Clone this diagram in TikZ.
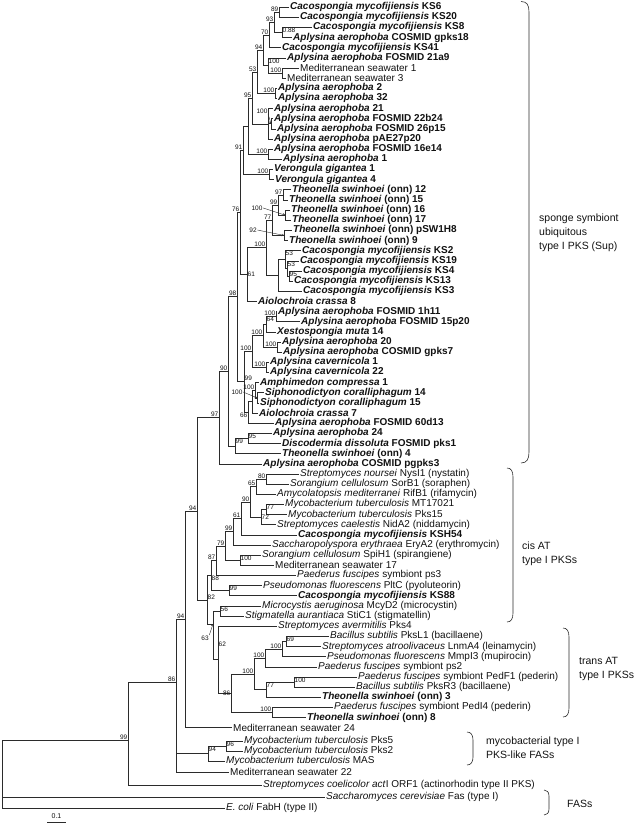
\documentclass[tikz,border=0pt]{standalone}
\usepackage{fontspec}
\setmainfont{Liberation Sans}
\usepackage{tikz}
\usetikzlibrary{arrows.meta}
\definecolor{inkblack}{HTML}{111111}
\definecolor{branchgray}{HTML}{2B2B2B}
\tikzset{
  leaf/.style={anchor=west,inner xsep=1pt,inner ysep=0pt,font=\fontsize{10}{10}\selectfont,text=inkblack},
  branch/.style={draw=branchgray,line width=0.6pt},
  boot/.style={font=\fontsize{6.5}{6.5}\selectfont,inner sep=0.5pt,text=inkblack},
  bootl/.style={boot,anchor=south east},
  bootin/.style={boot,anchor=north west},
  pointer/.style={-{To[length=2.5pt,width=2.5pt]},draw=branchgray,line width=0.4pt},
  clade/.style={draw=branchgray,line width=0.6pt},
  cladetext/.style={anchor=north west,align=left,font=\fontsize{10.5}{14}\selectfont,text=inkblack,inner sep=0pt},
}
\newcommand{\taxb}[2]{\textbf{\textit{#1} #2}}
\newcommand{\taxr}[2]{\textit{#1} #2}

\begin{document}
\begin{tikzpicture}[x=1pt,y=-1pt]
  \useasboundingbox (0,0) rectangle (640,828);
    \node[leaf] (L1) at (289,7.0) {\taxb{Cacospongia mycofijiensis}{KS6}};
    \node[leaf] (L2) at (299,17.2) {\taxb{Cacospongia mycofijiensis}{KS20}};
    \node[leaf] (L3) at (312,27.3) {\taxb{Cacospongia mycofijiensis}{KS8}};
    \node[leaf] (L4) at (292,37.5) {\taxb{Aplysina aerophoba}{COSMID gpks18}};
    \node[leaf] (L5) at (281,47.6) {\taxb{Cacospongia mycofijiensis}{KS41}};
    \node[leaf] (L6) at (286,57.8) {\taxb{Aplysina aerophoba}{FOSMID 21a9}};
    \node[leaf] (L7) at (299,67.9) {Mediterranean seawater 1};
    \node[leaf] (L8) at (286,78.1) {Mediterranean seawater 3};
    \node[leaf] (L9) at (277,88.2) {\taxb{Aplysina aerophoba}{2}};
    \node[leaf] (L10) at (277,98.4) {\taxb{Aplysina aerophoba}{32}};
    \node[leaf] (L11) at (273,108.5) {\taxb{Aplysina aerophoba}{21}};
    \node[leaf] (L12) at (273,118.7) {\taxb{Aplysina aerophoba}{FOSMID 22b24}};
    \node[leaf] (L13) at (276,128.8) {\taxb{Aplysina aerophoba}{FOSMID 26p15}};
    \node[leaf] (L14) at (273,139.0) {\taxb{Aplysina aerophoba}{pAE27p20}};
    \node[leaf] (L15) at (273,149.1) {\taxb{Aplysina aerophoba}{FOSMID 16e14}};
    \node[leaf] (L16) at (282,159.3) {\taxb{Aplysina aerophoba}{1}};
    \node[leaf] (L17) at (273,169.4) {\taxb{Verongula gigantea}{1}};
    \node[leaf] (L18) at (274,179.6) {\taxb{Verongula gigantea}{4}};
    \node[leaf] (L19) at (291,189.7) {\taxb{Theonella swinhoei}{(onn) 12}};
    \node[leaf] (L20) at (288,199.9) {\taxb{Theonella swinhoei}{(onn) 15}};
    \node[leaf] (L21) at (290,210.0) {\taxb{Theonella swinhoei}{(onn) 16}};
    \node[leaf] (L22) at (291,220.2) {\taxb{Theonella swinhoei}{(onn) 17}};
    \node[leaf] (L23) at (292,230.3) {\taxb{Theonella swinhoei}{(onn) pSW1H8}};
    \node[leaf] (L24) at (288,240.5) {\taxb{Theonella swinhoei}{(onn) 9}};
    \node[leaf] (L25) at (301,250.6) {\taxb{Cacospongia mycofijiensis}{KS2}};
    \node[leaf] (L26) at (299,260.8) {\taxb{Cacospongia mycofijiensis}{KS19}};
    \node[leaf] (L27) at (302,270.9) {\taxb{Cacospongia mycofijiensis}{KS4}};
    \node[leaf] (L28) at (293,281.1) {\taxb{Cacospongia mycofijiensis}{KS13}};
    \node[leaf] (L29) at (302,291.2) {\taxb{Cacospongia mycofijiensis}{KS3}};
    \node[leaf] (L30) at (257,301.4) {\taxb{Aiolochroia crassa}{8}};
    \node[leaf] (L31) at (277,311.5) {\taxb{Aplysina aerophoba}{FOSMID 1h11}};
    \node[leaf] (L32) at (300,321.7) {\taxb{Aplysina aerophoba}{FOSMID 15p20}};
    \node[leaf] (L33) at (276,331.8) {\taxb{Xestospongia muta}{14}};
    \node[leaf] (L34) at (281,342.0) {\taxb{Aplysina aerophoba}{20}};
    \node[leaf] (L35) at (282,352.1) {\taxb{Aplysina aerophoba}{COSMID gpks7}};
    \node[leaf] (L36) at (269,362.3) {\taxb{Aplysina cavernicola}{1}};
    \node[leaf] (L37) at (269,372.4) {\taxb{Aplysina cavernicola}{22}};
    \node[leaf] (L38) at (259,382.6) {\taxb{Amphimedon compressa}{1}};
    \node[leaf] (L39) at (264,392.7) {\taxb{Siphonodictyon coralliphagum}{14}};
    \node[leaf] (L40) at (259,402.9) {\taxb{Siphonodictyon coralliphagum}{15}};
    \node[leaf] (L41) at (258,413.0) {\taxb{Aiolochroia crassa}{7}};
    \node[leaf] (L42) at (274,423.2) {\taxb{Aplysina aerophoba}{FOSMID 60d13}};
    \node[leaf] (L43) at (272,433.3) {\taxb{Aplysina aerophoba}{24}};
    \node[leaf] (L44) at (281,443.5) {\taxb{Discodermia dissoluta}{FOSMID pks1}};
    \node[leaf] (L45) at (281,453.6) {\taxb{Theonella swinhoei}{(onn) 4}};
    \node[leaf] (L46) at (262,463.8) {\taxb{Aplysina aerophoba}{COSMID pgpks3}};
    \node[leaf] (L47) at (299,473.9) {\taxr{Streptomyces noursei}{NysI1 (nystatin)}};
    \node[leaf] (L48) at (289,484.1) {\taxr{Sorangium cellulosum}{SorB1 (soraphen)}};
    \node[leaf] (L49) at (276,494.2) {\taxr{Amycolatopsis mediterranei}{RifB1 (rifamycin)}};
    \node[leaf] (L50) at (284,504.4) {\taxr{Mycobacterium tuberculosis}{MT17021}};
    \node[leaf] (L51) at (287,514.5) {\taxr{Mycobacterium tuberculosis}{Pks15}};
    \node[leaf] (L52) at (276,524.7) {\taxr{Streptomyces caelestis}{NidA2 (niddamycin)}};
    \node[leaf] (L53) at (297,534.8) {\taxb{Cacospongia mycofijiensis}{KSH54}};
    \node[leaf] (L54) at (271,545.0) {\taxr{Saccharopolyspora erythraea}{EryA2 (erythromycin)}};
    \node[leaf] (L55) at (261,555.1) {\taxr{Sorangium cellulosum}{SpiH1 (spirangiene)}};
    \node[leaf] (L56) at (274,565.3) {Mediterranean seawater 17};
    \node[leaf] (L57) at (296,575.4) {\taxr{Paederus fuscipes}{symbiont ps3}};
    \node[leaf] (L58) at (262,585.6) {\taxr{Pseudomonas fluorescens}{PltC (pyoluteorin)}};
    \node[leaf] (L59) at (297,595.7) {\taxb{Cacospongia mycofijiensis}{KS88}};
    \node[leaf] (L60) at (261,605.9) {\taxr{Microcystis aeruginosa}{McyD2 (microcystin)}};
    \node[leaf] (L61) at (244,616.0) {\taxr{Stigmatella aurantiaca}{StiC1 (stigmatellin)}};
    \node[leaf] (L62) at (277,626.2) {\taxr{Streptomyces avermitilis}{Pks4}};
    \node[leaf] (L63) at (329,636.3) {\taxr{Bacillus subtilis}{PksL1 (bacillaene)}};
    \node[leaf] (L64) at (321,646.5) {\taxr{Streptomyces atroolivaceus}{LnmA4 (leinamycin)}};
    \node[leaf] (L65) at (326,656.6) {\taxr{Pseudomonas fluorescens}{MmpI3 (mupirocin)}};
    \node[leaf] (L66) at (317,666.8) {\taxr{Paederus fuscipes}{symbiont ps2}};
    \node[leaf] (L67) at (357,676.9) {\taxr{Paederus fuscipes}{symbiont PedF1 (pederin)}};
    \node[leaf] (L68) at (355,687.1) {\taxr{Bacillus subtilis}{PksR3 (bacillaene)}};
    \node[leaf] (L69) at (321,697.2) {\taxb{Theonella swinhoei}{(onn) 3}};
    \node[leaf] (L70) at (333,707.4) {\taxr{Paederus fuscipes}{symbiont PedI4 (pederin)}};
    \node[leaf] (L71) at (306,717.5) {\taxb{Theonella swinhoei}{(onn) 8}};
    \node[leaf] (L72) at (232,727.7) {Mediterranean seawater 24};
    \node[leaf] (L73) at (243,741) {\taxr{Mycobacterium tuberculosis}{Pks5}};
    \node[leaf] (L74) at (243,751) {\taxr{Mycobacterium tuberculosis}{Pks2}};
    \node[leaf] (L75) at (225,761) {\taxr{Mycobacterium tuberculosis}{MAS}};
    \node[leaf] (L76) at (229,772) {Mediterranean seawater 22};
    \node[leaf] (L77) at (262,785) {\textit{Streptomyces coelicolor act}I ORF1 (actinorhodin type II PKS)};
    \node[leaf] (L78) at (325,797) {\taxr{Saccharomyces cerevisiae}{Fas (type I)}};
    \node[leaf] (L79) at (225,808) {\taxr{E. coli}{FabH (type II)}};
    \coordinate (root) at (2,774); \coordinate (n99) at (128,740); \coordinate (n86) at (176,682);
    \coordinate (m94) at (208,753.5); \coordinate (m96) at (226,746);
    \coordinate (u94) at (185,619.6); \coordinate (u94b) at (197,511);
    \coordinate (s97) at (219,417); \coordinate (s90) at (228,371); \coordinate (s98) at (237,296);
    \coordinate (d99) at (235,446); \coordinate (d95) at (248,438.4);
    \coordinate (a76) at (240,212); \coordinate (a91) at (243,150); \coordinate (a91b) at (248,126);
    \coordinate (a95) at (252,98); \coordinate (a53) at (257,72); \coordinate (a94) at (263,50);
    \coordinate (a70) at (269,35); \coordinate (a93) at (274,22); \coordinate (a89) at (279,12.1);
    \coordinate (a088) at (282,32.4); \coordinate (a100f) at (268,65); \coordinate (a100m) at (282,73);
    \coordinate (a100c) at (275,93.3); \coordinate (a21) at (268,124); \coordinate (a22) at (271,123.7);
    \coordinate (a100d) at (268,154.2); \coordinate (a100e) at (269,174.5);
    \coordinate (a61) at (247,274); \coordinate (t100b) at (266,247.5); \coordinate (t77) at (272,220);
    \coordinate (t99) at (278,205); \coordinate (t97) at (283,194.8); \coordinate (t100) at (285,215.1);
    \coordinate (t92) at (284,235.4); \coordinate (c0) at (278,275); \coordinate (c53a) at (285,259);
    \coordinate (c53b) at (287,268); \coordinate (c95) at (289,276);
    \coordinate (b99) at (244,381); \coordinate (b100j) at (252,351); \coordinate (b100h) at (263,335.5);
    \coordinate (b64) at (266,324.2); \coordinate (b100f) at (276,316.6); \coordinate (b100g) at (277,347);
    \coordinate (b100i) at (266,367.3); \coordinate (b66) at (248,412); \coordinate (bamph) at (252,401);
    \coordinate (b100k) at (255,390); \coordinate (b100l) at (257,397.8);
    \coordinate (e82) at (207,600); \coordinate (e88) at (211,575.6); \coordinate (e87) at (216,560.7);
    \coordinate (e79) at (225,546); \coordinate (e99) at (233,531.7); \coordinate (e61) at (241,518.4);
    \coordinate (e90) at (250,502); \coordinate (e65) at (256,486.6); \coordinate (e80) at (266,479);
    \coordinate (e72) at (261,517); \coordinate (e77) at (266,509.4); \coordinate (e100) at (240,560.2);
    \coordinate (e99p) at (229,590.6);
    \coordinate (g63) at (213,624); \coordinate (f56) at (220,611); \coordinate (g62) at (218,659.6);
    \coordinate (g86) at (231,693); \coordinate (g100d) at (254,674); \coordinate (g100b) at (265,658);
    \coordinate (g100a) at (282,649); \coordinate (g69) at (286,641.4); \coordinate (g77) at (266,689.6);
    \coordinate (g100c) at (294,682); \coordinate (g100e) at (272,712.4);
    \draw[branch] (root) |- (n99); \draw[branch] (root) |- (L78.west); \draw[branch] (root) |- (L79.west);
    \draw[branch] (n99) |- (n86); \draw[branch] (n99) |- (L77.west);
    \draw[branch] (n86) |- (u94); \draw[branch] (n86) |- (m94); \draw[branch] (n86) |- (L76.west);
    \draw[branch] (m94) |- (m96); \draw[branch] (m94) |- (L75.west);
    \draw[branch] (m96) |- (L73.west); \draw[branch] (m96) |- (L74.west);
    \draw[branch] (u94) |- (u94b); \draw[branch] (u94) |- (L72.west);
    \draw[branch] (u94b) |- (s97); \draw[branch] (u94b) |- (e82);
    \draw[branch] (s97) |- (s90); \draw[branch] (s97) |- (L46.west);
    \draw[branch] (s90) |- (s98); \draw[branch] (s90) |- (d99);
    \draw[branch] (d99) |- (d95); \draw[branch] (d99) |- (L45.west);
    \draw[branch] (d95) |- (L43.west); \draw[branch] (d95) |- (L44.west);
    \draw[branch] (s98) |- (a76); \draw[branch] (s98) |- (b99);
    \draw[branch] (a76) |- (a91); \draw[branch] (a76) |- (a61);
    \draw[branch] (a91) |- (a91b); \draw[branch] (a91) |- (a100e);
    \draw[branch] (a91b) |- (a95); \draw[branch] (a91b) |- (a100d);
    \draw[branch] (a95) |- (a53); \draw[branch] (a95) |- (a21);
    \draw[branch] (a53) |- (a94); \draw[branch] (a53) |- (a100c);
    \draw[branch] (a94) |- (a70); \draw[branch] (a94) |- (a100f);
    \draw[branch] (a70) |- (a93); \draw[branch] (a70) |- (L5.west);
    \draw[branch] (a93) |- (a89); \draw[branch] (a93) |- (a088);
    \draw[branch] (a89) |- (L1.west); \draw[branch] (a89) |- (L2.west);
    \draw[branch] (a088) |- (L3.west); \draw[branch] (a088) |- (L4.west);
    \draw[branch] (a100f) |- (L6.west); \draw[branch] (a100f) |- (a100m);
    \draw[branch] (a100m) |- (L7.west); \draw[branch] (a100m) |- (L8.west);
    \draw[branch] (a100c) |- (L9.west); \draw[branch] (a100c) |- (L10.west);
    \draw[branch] (a21) |- (L11.west); \draw[branch] (a21) |- (a22); \draw[branch] (a21) |- (L14.west);
    \draw[branch] (a22) |- (L12.west); \draw[branch] (a22) |- (L13.west);
    \draw[branch] (a100d) |- (L15.west); \draw[branch] (a100d) |- (L16.west);
    \draw[branch] (a100e) |- (L17.west); \draw[branch] (a100e) |- (L18.west);
    \draw[branch] (a61) |- (t100b); \draw[branch] (a61) |- (L30.west);
    \draw[branch] (t100b) |- (t77); \draw[branch] (t100b) |- (c0);
    \draw[branch] (t77) |- (t99); \draw[branch] (t77) |- (t92);
    \draw[branch] (t99) |- (t97); \draw[branch] (t99) |- (t100);
    \draw[branch] (t97) |- (L19.west); \draw[branch] (t97) |- (L20.west);
    \draw[branch] (t100) |- (L21.west); \draw[branch] (t100) |- (L22.west);
    \draw[branch] (t92) |- (L23.west); \draw[branch] (t92) |- (L24.west);
    \draw[branch] (c0) |- (c53a); \draw[branch] (c0) |- (L29.west);
    \draw[branch] (c53a) |- (L25.west); \draw[branch] (c53a) |- (c53b);
    \draw[branch] (c53b) |- (L26.west); \draw[branch] (c53b) |- (c95);
    \draw[branch] (c95) |- (L27.west); \draw[branch] (c95) |- (L28.west);
    \draw[branch] (b99) |- (b100j); \draw[branch] (b99) |- (b66);
    \draw[branch] (b100j) |- (b100h); \draw[branch] (b100j) |- (b100i);
    \draw[branch] (b100h) |- (b64); \draw[branch] (b100h) |- (b100g);
    \draw[branch] (b64) |- (b100f); \draw[branch] (b64) |- (L33.west);
    \draw[branch] (b100f) |- (L31.west); \draw[branch] (b100f) |- (L32.west);
    \draw[branch] (b100g) |- (L34.west); \draw[branch] (b100g) |- (L35.west);
    \draw[branch] (b100i) |- (L36.west); \draw[branch] (b100i) |- (L37.west);
    \draw[branch] (b66) |- (bamph); \draw[branch] (b66) |- (L42.west);
    \draw[branch] (bamph) |- (b100k); \draw[branch] (bamph) |- (L41.west);
    \draw[branch] (b100k) |- (L38.west); \draw[branch] (b100k) |- (b100l);
    \draw[branch] (b100l) |- (L39.west); \draw[branch] (b100l) |- (L40.west);
    \draw[branch] (e82) |- (e88); \draw[branch] (e82) |- (g63);
    \draw[branch] (e88) |- (e87); \draw[branch] (e88) |- (e99p);
    \draw[branch] (e87) |- (e79); \draw[branch] (e87) |- (L57.west);
    \draw[branch] (e79) |- (e99); \draw[branch] (e79) |- (e100);
    \draw[branch] (e99) |- (e61); \draw[branch] (e99) |- (L54.west);
    \draw[branch] (e61) |- (e90); \draw[branch] (e61) |- (L53.west);
    \draw[branch] (e90) |- (e65); \draw[branch] (e90) |- (e72);
    \draw[branch] (e65) |- (e80); \draw[branch] (e65) |- (L49.west);
    \draw[branch] (e80) |- (L47.west); \draw[branch] (e80) |- (L48.west);
    \draw[branch] (e72) |- (e77); \draw[branch] (e72) |- (L52.west);
    \draw[branch] (e77) |- (L50.west); \draw[branch] (e77) |- (L51.west);
    \draw[branch] (e100) |- (L55.west); \draw[branch] (e100) |- (L56.west);
    \draw[branch] (e99p) |- (L58.west); \draw[branch] (e99p) |- (L59.west);
    \draw[branch] (g63) |- (f56); \draw[branch] (g63) |- (g62);
    \draw[branch] (f56) |- (L60.west); \draw[branch] (f56) |- (L61.west);
    \draw[branch] (g62) |- (L62.west); \draw[branch] (g62) |- (g86);
    \draw[branch] (g86) |- (g100d); \draw[branch] (g86) |- (g100e);
    \draw[branch] (g100d) |- (g100b); \draw[branch] (g100d) |- (g77);
    \draw[branch] (g100b) |- (g100a); \draw[branch] (g100b) |- (L66.west);
    \draw[branch] (g100a) |- (g69); \draw[branch] (g100a) |- (L65.west);
    \draw[branch] (g69) |- (L63.west); \draw[branch] (g69) |- (L64.west);
    \draw[branch] (g77) |- (g100c); \draw[branch] (g77) |- (L69.west);
    \draw[branch] (g100c) |- (L67.west); \draw[branch] (g100c) |- (L68.west);
    \draw[branch] (g100e) |- (L70.west); \draw[branch] (g100e) |- (L71.west);
    \node[bootl] (ba89) at (a89) {89}; \node[bootl] (ba93) at (a93) {93}; \node[bootl] (ba70) at (a70) {70};
    \node[bootl] (ba94) at (a94) {94}; \node[bootl] (ba100m) at (a100m) {100}; \node[bootl] (ba53) at (a53) {53};
    \node[bootl] (ba100c) at (a100c) {100}; \node[bootl] (ba95) at (a95) {95}; \node[bootl] (ba100d) at (a100d) {100};
    \node[bootl] (ba91) at (a91) {91}; \node[bootl] (ba100e) at (a100e) {100}; \node[bootl] (bt97) at (t97) {97};
    \node[bootl] (bt99) at (t99) {99}; \node[bootl] (bt77) at (t77) {77}; \node[bootl] (bt100b) at (t100b) {100};
    \node[bootl] (ba76) at (a76) {76}; \node[bootl] (bs98) at (s98) {98}; \node[bootl] (bb100f) at (b100f) {100};
    \node[bootl] (bb100h) at (b100h) {100}; \node[bootl] (bb100g) at (b100g) {100}; \node[bootl] (bb100i) at (b100i) {100};
    \node[bootl] (bb100j) at (b100j) {100}; \node[bootl] (bb100k) at (b100k) {100}; \node[bootl] (bs90) at (s90) {90};
    \node[bootl] (bs97) at (s97) {97}; \node[bootl] (bu94b) at (u94b) {94}; \node[bootl] (bu94) at (u94) {94};
    \node[bootl] (bn86) at (n86) {86}; \node[bootl] (bn99) at (n99) {99}; \node[bootl] (be80) at (e80) {80};
    \node[bootl] (be65) at (e65) {65}; \node[bootl] (be90) at (e90) {90}; \node[bootl] (be61) at (e61) {61};
    \node[bootl] (be99) at (e99) {99}; \node[bootl] (be79) at (e79) {79}; \node[bootl] (be87) at (e87) {87};
    \node[bootl] (bg100a) at (g100a) {100}; \node[bootl] (bg100b) at (g100b) {100};
    \node[bootl] (bg100d) at (g100d) {100}; \node[bootl] (bg100e) at (g100e) {100};
    \node[bootin] (ba088) at (a088 |- L3.west) {0.88}; \node[bootin] (ba100f) at (a100f |- L6.west) {100};
    \node[bootin] (bc53a) at (c53a |- L25.west) {53}; \node[bootin] (bc53b) at (c53b |- L26.west) {53};
    \node[bootin] (bc95) at (c95 |- L27.west) {95}; \node[bootin] (bb64) at (b64 |- b100f) {64};
    \node[bootin] (bd95) at (d95 |- L43.west) {95}; \node[bootin] (bd99) at (d99 |- d95) {99};
    \node[bootin] (be77) at (e77 |- L50.west) {77}; \node[bootin] (be72) at (e72 |- L51.west) {72};
    \node[bootin] (be100) at (e100 |- L55.west) {100}; \node[bootin] (be99p) at (e99p |- L58.west) {99};
    \node[bootin] (bf56) at (f56 |- L60.west) {56}; \node[bootin] (bg69) at (g69 |- L63.west) {69};
    \node[bootin] (bg100c) at (g100c |- L67.west) {100}; \node[bootin] (bg77) at (g77 |- g100c) {77};
    \node[bootin] (bm96) at (m96 |- L73.west) {96}; \node[bootin] (bm94) at (m94 |- m96) {94};
    \node[boot,anchor=west] (ba61) at (a61) {61}; \node[boot,anchor=north east] (bb66) at (b66) {66};
    \node[boot,anchor=south west] (bb99) at (b99) {99}; \node[boot,anchor=north west] (be88) at (e88) {88};
    \node[boot,anchor=south west] (be82) at (e82) {82}; \node[boot,anchor=south west,yshift=12pt] (bg62) at (g62) {62};
    \node[boot,anchor=east] (bg86) at (g86) {86};
    \node[boot] (ka22) at (262,111) {100}; \draw[pointer] (ka22.south east) -- (a22);
    \node[boot] (kt100) at (257,208) {100}; \draw[pointer] (kt100.east) -- (t100);
    \node[boot] (kt92) at (253,230) {92}; \draw[pointer] (kt92.east) -- (t92);
    \node[boot] (kb100l) at (237,392) {100}; \draw[pointer] (kb100l.east) -- (b100l);
    \node[boot] (kg63) at (205,638) {63}; \draw[pointer] (kg63.north east) -- (g63);
    \draw[clade] (521,1.5) .. controls (527,1.5) and (529,5) .. (529,12) -- (529,452) .. controls (529,459) and (527,463) .. (521,463);
    \draw[clade] (507,468) .. controls (511,468) and (513,471) .. (513,477) -- (513,613) .. controls (513,619) and (511,622) .. (507,622);
    \draw[clade] (563,628) .. controls (567,628) and (569,631) .. (569,637) -- (569,708) .. controls (569,714) and (567,717) .. (563,717);
    \draw[clade] (467,732) .. controls (471,732) and (473,735) .. (473,740) -- (473,757) .. controls (473,762) and (471,765) .. (467,765);
    \draw[clade] (544,790) .. controls (547,790) and (549,792) .. (549,796) -- (549,809) .. controls (549,813) and (547,815) .. (544,815);
    \node[cladetext] (supt) at (539,214) {sponge symbiont\\ubiquitous\\type I PKS (Sup)};
    \node[cladetext] (cist) at (522,542) {cis AT\\type I PKSs};
    \node[cladetext] (transt) at (579,657) {trans AT\\type I PKSs};
    \node[cladetext] (mycot) at (486,737) {mycobacterial type I\\PKS-like FASs};
    \node[cladetext,anchor=west] (fast) at (567,804) {FASs};
    \coordinate (sb1) at (47,822); \coordinate (sb2) at (66,822);
    \draw[branch] (sb1) -- (sb2);
    \node[boot,font=\fontsize{7}{7}\selectfont,anchor=south] (sbt) at (56.5,819) {0.1};
  \end{tikzpicture}
\end{document}
